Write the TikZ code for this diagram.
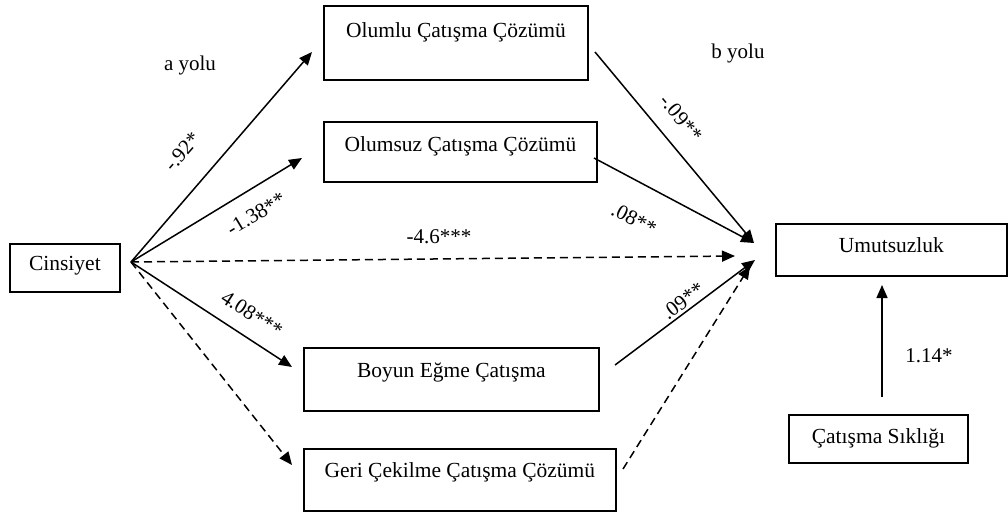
\documentclass[tikz,border=0pt]{standalone}
\usepackage{fontspec}
\setmainfont{Liberation Serif}
\usetikzlibrary{arrows.meta}
\begin{document}
\begin{tikzpicture}[x=1pt,y=-1pt,
  box/.style={draw, line width=1.8pt, inner xsep=0pt, inner ysep=0pt, anchor=north west, font=\fontsize{21.5}{24}\selectfont},
  lbl/.style={font=\fontsize{21}{24}\selectfont, inner sep=0pt},
  conn/.style={line width=1.5pt, -{Triangle[length=13pt,width=11pt]}},
  dsh/.style={conn, dash pattern=on 8pt off 5pt}]
\useasboundingbox (0,0) rectangle (1008,513);

% boxes
\node[box, minimum width=110pt, text height=27pt, text depth=21pt] (cins) at (9,243) {Cinsiyet};
\node[box, minimum width=264pt, text height=32pt, text depth=42pt] (olumlu) at (323,5) {Olumlu Çatışma Çözümü};
\node[box, minimum width=273pt, text height=30pt, text depth=30pt] (olumsuz) at (323,121) {Olumsuz Çatışma Çözümü};
\node[box, minimum width=295pt, text height=30pt, text depth=33pt] (boyun) at (303,347) {Boyun Eğme Çatışma};
\node[box, minimum width=312pt, text height=29pt, text depth=33pt] (geri) at (303,448) {Geri Çekilme Çatışma Çözümü};
\node[box, minimum width=231pt, text height=29pt, text depth=23pt] (umut) at (775,223) {Umutsuzluk};
\node[box, minimum width=179pt, text height=29pt, text depth=19pt] (siklik) at (788,414) {Çatışma Sıklığı};

% connector end points
\coordinate (src) at (131,262);
\coordinate (tOlumlu) at (312,52);
\coordinate (tOlumsuz) at (302,158);
\coordinate (tBoyun) at (292,367);
\coordinate (tGeri) at (292,465);
\coordinate (tDirect) at (735,256);
\coordinate (sOlumlu) at (595,52);
\coordinate (sOlumsuz) at (594,158);
\coordinate (sBoyun) at (615,365);
\coordinate (sGeri) at (623,469);
\coordinate (hubA) at (754,243);
\coordinate (hubB) at (755,260);
\coordinate (hubC) at (750,266);
\coordinate (sSik) at (882,397);
\coordinate (tUmut) at (882,285);

% a paths
\draw[conn] (src) -- (tOlumlu);
\draw[conn] (src) -- (tOlumsuz);
\draw[conn] (src) -- (tBoyun);
\draw[dsh] (src) -- (tGeri);
\draw[dsh] (src) -- (tDirect);

% b paths
\draw[conn] (sOlumlu) -- (hubA);
\draw[conn] (sOlumsuz) -- (hubA);
\draw[conn] (sBoyun) -- (hubB);
\draw[dsh] (sGeri) -- (hubC);
\draw[conn] (sSik) -- (tUmut);

% labels
\node[lbl] (ay) at (190,65) {a yolu};
\node[lbl] (by) at (738,53) {b yolu};
\node[lbl, rotate=49] (l1) at (182,152) {-.92*};
\node[lbl, rotate=31] (l2) at (256,214) {-1.38**};
\node[lbl, rotate=-33] (l3) at (252,314) {4.08***};
\node[lbl] (l4) at (439,237) {-4.6***};
\node[lbl, rotate=-50] (l5) at (681,118) {-.09**};
\node[lbl, rotate=-27] (l6) at (634,219) {.08**};
\node[lbl, rotate=37] (l7) at (683,301) {.09**};
\node[lbl] (l8) at (929,356) {1.14*};
\end{tikzpicture}
\end{document}
